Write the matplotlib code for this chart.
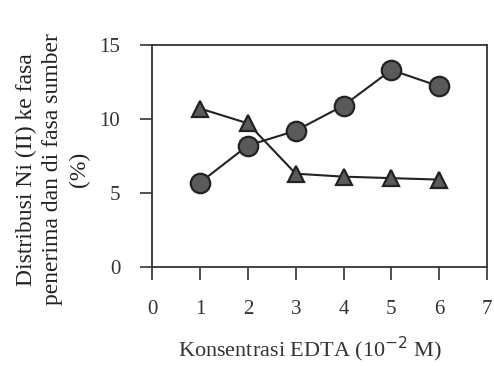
import matplotlib as mpl
import matplotlib.pyplot as plt

mpl.rcParams["font.family"] = ["Liberation Serif", "DejaVu Serif"]

konsentrasi = [1, 2, 3, 4, 5, 6]
fasa_penerima = [5.7, 8.2, 9.2, 10.9, 13.3, 12.2]   # lingkaran
fasa_sumber = [10.7, 9.7, 6.3, 6.1, 6.0, 5.9]       # segitiga

fig = plt.figure(dpi=100, figsize=(4.94, 3.66))
ax = fig.add_axes([0.308, 0.2705, 0.678, 0.607])

ax.plot(konsentrasi, fasa_penerima, color="#222222", lw=1.5, marker="o", ms=14,
        mfc="#5a5a5a", mec="#222222", mew=1.6)
ax.plot(konsentrasi, fasa_sumber, color="#222222", lw=1.5, marker="^", ms=12,
        mfc="#5a5a5a", mec="#222222", mew=1.6)

ax.set_xlim(0, 7)
ax.set_ylim(0, 15)
ax.set_xticks(range(0, 8))
ax.set_yticks([0, 5, 10, 15])
ax.tick_params(direction="out", length=9, width=1.2, labelsize=15, colors="#333333")
ax.tick_params(axis="x", pad=15)
ax.tick_params(axis="y", pad=14)
for s in ax.spines.values():
    s.set_linewidth(1.3)
    s.set_color("#333333")

ax.set_xlabel("Konsentrasi EDTA (10$^{-2}$ M)", fontsize=16, color="#333333")
ax.xaxis.set_label_coords(0.47, -0.305)
ax.set_ylabel("Distribusi Ni (II) ke fasa\npenerima dan di fasa sumber\n(%)",
              fontsize=17, color="#222222", linespacing=1.35)
ax.yaxis.set_label_coords(-0.185, 0.44)

fig.savefig("out.png", dpi=100)
